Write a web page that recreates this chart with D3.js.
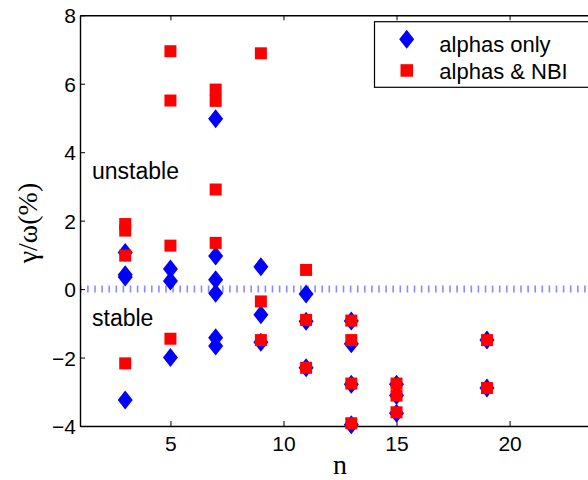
<!DOCTYPE html>
<html>
<head>
<meta charset="utf-8">
<script src="https://cdn.jsdelivr.net/npm/d3@7"></script>
<style>
  html, body { margin: 0; padding: 0; background: #fff; }
  svg { display: block; }
</style>
</head>
<body>
<div id="chart"></div>
<script>
// growth rate (%) vs toroidal mode number n
const nAlpha = [3, 3, 3, 3, 5, 5, 5, 7, 7, 7, 7, 7, 7, 9, 9, 9, 11, 11, 11, 13, 13, 13, 13, 15, 15, 15, 19, 19];
const gAlpha = [1.07, 0.42, 0.35, -3.24, 0.59, 0.24, -2.0, 4.98, 0.97, 0.27, -0.12, -1.42, -1.66,
                0.65, -0.75, -1.55, -0.14, -0.94, -2.30, -0.93, -1.60, -2.78, -3.96, -2.78, -3.11, -3.63, -1.49, -2.89];
const nNBI = [3, 3, 3, 3, 5, 5, 5, 5, 7, 7, 7, 7, 9, 9, 9, 11, 11, 11, 13, 13, 13, 13, 15, 15, 15, 19, 19];
const gNBI = [1.90, 1.71, 0.98, -2.17, 6.95, 5.51, 1.27, -1.45, 5.83, 5.50, 2.91, 1.35, 6.89, -0.36, -1.49,
              0.56, -0.90, -2.30, -0.92, -1.49, -2.76, -3.92, -2.76, -3.11, -3.60, -1.49, -2.89];
const xTicks = [5, 10, 15, 20];
const yTicks = [-4, -2, 0, 2, 4, 6, 8];
const seriesNames = ["alphas only", "alphas & NBI"];

const W = 588, H = 480;
const mLeft = 80, mTop = 15.3, mBottom = 426, mRight = 600;

const svg = d3.select("#chart").append("svg")
  .attr("width", W).attr("height", H);

const x = d3.scaleLinear().domain([1, 24]).range([mLeft, mRight]);
const y = d3.scaleLinear().domain([-4, 8]).range([mBottom, mTop]);

const sans = "'Liberation Sans', Arial, sans-serif";
const serif = "'Liberation Serif', 'Times New Roman', serif";

// zero line (dotted, light blue)
svg.append("line")
  .attr("x1", x(1)).attr("x2", x(24))
  .attr("y1", y(0)).attr("y2", y(0))
  .attr("stroke", "#8a8aff")
  .attr("stroke-width", 7)
  .attr("stroke-dasharray", "1.6,5.5");

// axes
const gx = svg.append("g").attr("transform", `translate(0,${mBottom})`)
  .call(d3.axisBottom(x).tickValues(xTicks).tickSizeInner(-5).tickSizeOuter(0).tickPadding(10));
const gxTop = svg.append("g").attr("transform", `translate(0,${mTop})`)
  .call(d3.axisTop(x).tickValues(xTicks).tickSizeInner(-5).tickSizeOuter(0).tickFormat(""));
const gy = svg.append("g").attr("transform", `translate(${mLeft},0)`)
  .call(d3.axisLeft(y).tickValues(yTicks).tickSizeInner(-5).tickSizeOuter(0).tickPadding(4));

[gx, gxTop, gy].forEach(g => {
  g.select(".domain").attr("stroke", "#000").attr("stroke-width", 1.4);
  g.selectAll(".tick line").attr("stroke", "#000").attr("stroke-width", 1);
  g.selectAll("text").attr("fill", "#000")
    .style("font-family", sans).style("font-size", "21px");
});
gx.selectAll("text").attr("dy", "0.71em");
gy.selectAll("text").attr("dy", "0.36em");

// markers
const diamond = (cx, cy) => `M${cx},${cy - 9.5}L${cx + 7.5},${cy}L${cx},${cy + 9.5}L${cx - 7.5},${cy}Z`;

svg.append("g").selectAll("path")
  .data(nAlpha.map((n, i) => [n, gAlpha[i]]))
  .enter().append("path")
  .attr("d", d => diamond(x(d[0]), y(d[1])))
  .attr("fill", "#0000ff");

svg.append("g").selectAll("rect")
  .data(nNBI.map((n, i) => [n, gNBI[i]]))
  .enter().append("rect")
  .attr("x", d => x(d[0]) - 6).attr("y", d => y(d[1]) - 6)
  .attr("width", 12).attr("height", 12)
  .attr("fill", "#ff0000");

// region labels
svg.append("text").attr("x", 92).attr("y", 178.5)
  .style("font-family", sans).style("font-size", "23px").text("unstable");
svg.append("text").attr("x", 92).attr("y", 326)
  .style("font-family", sans).style("font-size", "23px").text("stable");

// axis labels
svg.append("text")
  .attr("transform", `translate(37,223) rotate(-90)`)
  .attr("text-anchor", "middle")
  .style("font-family", serif).style("font-size", "28px")
  .text("γ/ω(%)");
svg.append("text").attr("x", 340).attr("y", 473.5)
  .attr("text-anchor", "middle")
  .style("font-family", serif).style("font-size", "28px")
  .text("n");

// legend
const lg = svg.append("g");
lg.append("rect").attr("x", 374.5).attr("y", 21.7)
  .attr("width", 260).attr("height", 65.6)
  .attr("fill", "#fff").attr("stroke", "#000").attr("stroke-width", 1.2);
lg.append("path").attr("d", diamond(406.7, 39.3)).attr("fill", "#0000ff");
lg.append("rect").attr("x", 400.5).attr("y", 64.2).attr("width", 12.5).attr("height", 12.5).attr("fill", "#ff0000");
lg.selectAll("text.lab").data(seriesNames).enter().append("text")
  .attr("x", 439.3).attr("y", (d, i) => 51.5 + i * 27)
  .style("font-family", sans).style("font-size", "22px")
  .text(d => d);
</script>
</body>
</html>
